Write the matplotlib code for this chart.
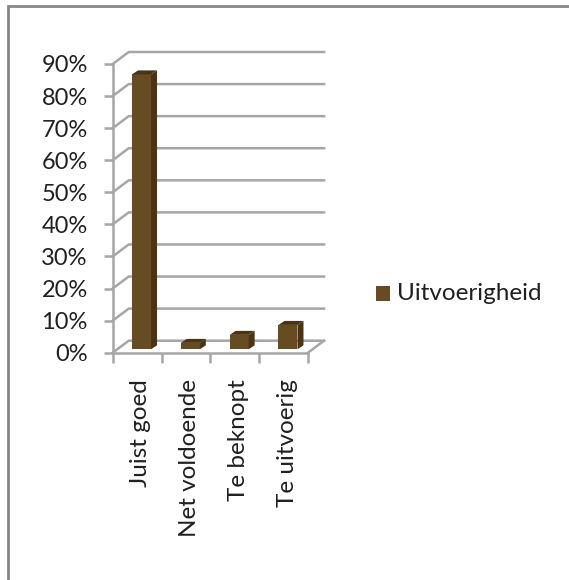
import matplotlib
matplotlib.use("Agg")
import matplotlib.pyplot as plt
from matplotlib.lines import Line2D
from matplotlib.patches import Polygon, Rectangle
from matplotlib.ticker import PercentFormatter

categories = ["Juist goed", "Net voldoende", "Te beknopt", "Te uitvoerig"]
values = [85.7, 2.0, 4.5, 7.6]
series_name = "Uitvoerigheid"
y_ticks = [0, 10, 20, 30, 40, 50, 60, 70, 80, 90]

W, H = 569, 580
GRID = "#a6a6a6"
FRONT = "#674c23"
SIDE = "#493516"
TOP = "#493516"
TXT = "#202020"
FS = 17.5
plt.rcParams["font.family"] = ["Lato", "DejaVu Sans"]

fig = plt.figure(figsize=(W / 100, H / 100), dpi=100, facecolor="white")
fig.add_artist(Line2D([7.5 / W, 7.5 / W, 1], [0, 1 - 5.5 / H, 1 - 5.5 / H], transform=fig.transFigure,
                      color="#868686", lw=2, solid_joinstyle="miter"))
x0, x1, ytop, ybot = 112.7, 308, 64, 352.7
ax = fig.add_axes([x0 / W, 1 - ybot / H, (x1 - x0) / W, (ybot - ytop) / H])
ax.set_xlim(0, 4)
ax.set_ylim(0, 90)
ax.patch.set_visible(False)
for s in ["top", "right"]:
    ax.spines[s].set_visible(False)
for s in ["left", "bottom"]:
    ax.spines[s].set_color(GRID)
    ax.spines[s].set_linewidth(1.8)

pxx = 4 / (x1 - x0)
pxy = 90 / (ybot - ytop)
dx, dy = 16 * pxx, 12 * pxy
for v in y_ticks:
    ax.plot([0, dx, 4 + dx], [v, v + dy, v + dy], color=GRID, lw=1.8, clip_on=False, zorder=1,
            solid_joinstyle="miter")
ax.plot([4, 4 + dx], [0, dy], color=GRID, lw=1.8, clip_on=False, zorder=1)

ax.set_yticks(y_ticks)
ax.yaxis.set_major_formatter(PercentFormatter(decimals=0))
ax.set_xticks(range(5))
ax.set_xticklabels([""] * 5)
ax.tick_params(axis="y", length=6.5, width=1.8, color=GRID, labelsize=17, labelcolor=TXT, pad=11.5)
ax.tick_params(axis="x", length=7, width=1.8, color=GRID)

bw = 19 * pxx
bx, by = 6 * pxx, 4 * pxy
base = 3.4 * pxy
for i, (c, v) in enumerate(zip(categories, values)):
    l = i + 0.59 - bw / 2
    r = l + bw
    ax.bar(l, v, width=bw, bottom=base, align="edge", color=FRONT, zorder=3, clip_on=False)
    t = base + v
    ax.add_patch(Polygon([(r, base), (r + bx, base + by), (r + bx, t + by), (r, t)],
                         fc=SIDE, ec="none", zorder=3, clip_on=False))
    ax.add_patch(Polygon([(l, t), (r, t), (r + bx, t + by), (l + bx, t + by)],
                         fc=TOP, ec="none", zorder=3, clip_on=False))
    ax.text(i + 0.57, -8.2, c, rotation=90, ha="center", va="top", fontsize=FS, color=TXT,
            clip_on=False)

fig.add_artist(Rectangle((376 / W, 1 - 301 / H), 14 / W, 15 / H, transform=fig.transFigure,
                         fc=FRONT, ec="none"))
fig.text(397 / W, 1 - 293.5 / H, series_name, fontsize=FS, color=TXT, va="center", ha="left")

fig.savefig("out.png", dpi=100)
